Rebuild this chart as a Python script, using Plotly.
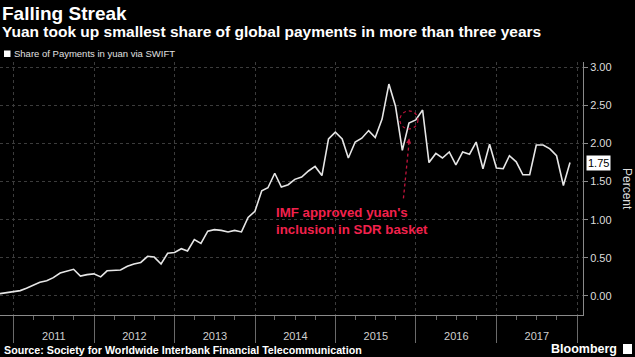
import plotly.graph_objects as go
import pandas as pd

# Monthly share of global payments in yuan via SWIFT (%), month-end dates
months = pd.date_range("2010-10-31", "2017-11-30", freq=pd.offsets.MonthEnd())
share = [
    0.03, 0.04, 0.05,                                                   # 2010 Oct-Dec
    0.07, 0.10, 0.14, 0.18, 0.20, 0.24, 0.30, 0.33, 0.35, 0.26, 0.28, 0.29,  # 2011
    0.25, 0.33, 0.34, 0.34, 0.39, 0.42, 0.44, 0.52, 0.51, 0.42, 0.56, 0.57,  # 2012
    0.62, 0.59, 0.74, 0.69, 0.85, 0.87, 0.86, 0.84, 0.86, 0.84, 1.03, 1.11,  # 2013
    1.38, 1.42, 1.61, 1.43, 1.46, 1.53, 1.56, 1.64, 1.70, 1.58, 2.06, 2.15,  # 2014
    2.06, 1.81, 2.02, 2.07, 2.17, 2.08, 2.32, 2.78, 2.49, 1.91, 2.27, 2.31,  # 2015
    2.44, 1.75, 1.87, 1.81, 1.89, 1.72, 1.89, 1.86, 2.02, 1.67, 1.99, 1.68,  # 2016
    1.67, 1.84, 1.76, 1.59, 1.59, 1.98, 1.98, 1.93, 1.84, 1.45, 1.75,        # 2017 Jan-Nov
]
years = [2011, 2012, 2013, 2014, 2015, 2016, 2017]

title = "Falling Streak"
subtitle = "Yuan took up smallest share of global payments in more than three years"
legend_label = "Share of Payments in yuan via SWIFT"
source = "Source: Society for Worldwide Interbank Financial Telecommunication"
note = "IMF approved yuan's<br>inclusion in SDR basket"
imf_date = "2015-11-30"

W, H = 635, 357
L, R, T, B = 0, 52, 62, 42
PH = H - T - B
PW = W - L - R
FONT = "Liberation Sans"


def py(y_px):
    return (H - B - y_px) / PH


def px(x_px):
    return (x_px - L) / PW


fig = go.Figure()
fig.add_trace(go.Scatter(
    x=months, y=share, mode="lines",
    line=dict(color="#e6e6e6", width=1.6),
    hoverinfo="skip", showlegend=False,
))

grid = "#3c3c3c"
axis_c = "#8a8a8a"

fig.update_layout(
    width=W, height=H,
    margin=dict(l=L, r=R, t=T, b=B, autoexpand=False),
    paper_bgcolor="#000000", plot_bgcolor="#000000",
    font=dict(family=FONT, color="#dddddd"),
    showlegend=False,
    xaxis=dict(
        type="date",
        range=["2010-10-31", "2018-01-28"],
        tick0=f"{years[0]}-01-01", dtick="M12",
        tickformat="%Y", ticklabelmode="period",
        ticks="outside", ticklen=27, tickwidth=1, tickcolor="#6a6a6a",
        ticklabelstandoff=-16,
        tickfont=dict(size=11, color="#cfcfcf", family=FONT),
        showgrid=True, gridcolor=grid, griddash="dot", gridwidth=1,
        showline=True, linecolor=axis_c, linewidth=1,
        minor=dict(dtick="M3", ticks="outside", ticklen=4, tickcolor="#6a6a6a", showgrid=False),
        zeroline=False, fixedrange=True,
    ),
    yaxis=dict(
        side="right",
        range=[-0.25, 3.07],
        tick0=0, dtick=0.5, tickformat=".2f",
        ticks="outside", ticklen=4, tickcolor=axis_c,
        tickfont=dict(size=11, color="#dddddd", family=FONT),
        showgrid=True, gridcolor=grid, griddash="dot", gridwidth=1,
        showline=True, linecolor=axis_c, linewidth=1,
        zeroline=False, fixedrange=True,
    ),
)

anns = []
anns.append(dict(xref="paper", yref="paper", x=px(0), y=py(13.5), xanchor="left", yanchor="middle",
                 text=f"<b>{title}</b>", showarrow=False,
                 font=dict(size=19, color="#ffffff", family=FONT)))
anns.append(dict(xref="paper", yref="paper", x=px(0), y=py(31.5), xanchor="left", yanchor="middle",
                 text=f"<b>{subtitle}</b>", showarrow=False,
                 font=dict(size=15.5, color="#ffffff", family=FONT)))
anns.append(dict(xref="paper", yref="paper", x=px(12), y=py(53.5), xanchor="left", yanchor="middle",
                 text=legend_label, showarrow=False,
                 font=dict(size=9.5, color="#e0e0e0", family=FONT)))
anns.append(dict(xref="paper", yref="paper", x=px(2), y=py(350), xanchor="left", yanchor="middle",
                 text=f"<b>{source}</b>", showarrow=False,
                 font=dict(size=10.7, color="#ffffff", family=FONT)))
anns.append(dict(xref="paper", yref="paper", x=px(619), y=py(349), xanchor="right", yanchor="middle",
                 text="<b>Bloomberg</b>", showarrow=False,
                 font=dict(size=12.5, color="#ffffff", family=FONT)))
# last value label
anns.append(dict(xref="paper", yref="y", x=1, y=share[-1], xanchor="left", yanchor="middle",
                 xshift=3, text=f"{share[-1]:.2f}", showarrow=False,
                 bgcolor="#ffffff", borderpad=1,
                 font=dict(size=11, color="#000000", family=FONT)))
# axis title
anns.append(dict(xref="paper", yref="paper", x=px(627), y=py(189), xanchor="center", yanchor="middle",
                 text="Percent", textangle=90, showarrow=False,
                 font=dict(size=12, color="#dddddd", family=FONT)))
# IMF note
anns.append(dict(xref="x", yref="y", x="2014-03-28", y=0.98, xanchor="left", yanchor="middle",
                 align="left", text=f"<b>{note}</b>", showarrow=False,
                 font=dict(size=13.3, color="#f2214c", family=FONT)))
# arrow head
anns.append(dict(xref="x", yref="y", x="2015-12-01", y=2.07, ax=-0.8, ay=8,
                 showarrow=True, arrowhead=2, arrowsize=1, arrowwidth=1,
                 arrowcolor="#c0143c", text=""))
fig.update_layout(annotations=anns)

shapes = []
shapes.append(dict(type="line", xref="x", yref="y", x0="2015-11-05", y0=1.28, x1="2015-11-30", y1=2.0,
                   line=dict(color="#c0143c", width=1.3, dash="dot")))
shapes.append(dict(type="circle", xref="x", yref="y", xsizemode="pixel", ysizemode="pixel",
                   xanchor=imf_date, yanchor=2.31, x0=-9, x1=9, y0=-9, y1=9,
                   line=dict(color="#c0143c", width=1.2, dash="dot")))
# legend swatch
shapes.append(dict(type="rect", xref="paper", yref="paper", x0=px(4), x1=px(10.5), y0=py(57), y1=py(50.5),
                   fillcolor="#ffffff", line=dict(width=0)))
# Bloomberg icon
shapes.append(dict(type="rect", xref="paper", yref="paper", x0=px(623), x1=px(632), y0=py(354), y1=py(344),
                   fillcolor="#ffffff", line=dict(width=0)))
fig.update_layout(shapes=shapes)

fig.write_html("out.html", config={"displayModeBar": False},
               post_script="document.body.style.margin='0';document.body.style.background='#000';")
